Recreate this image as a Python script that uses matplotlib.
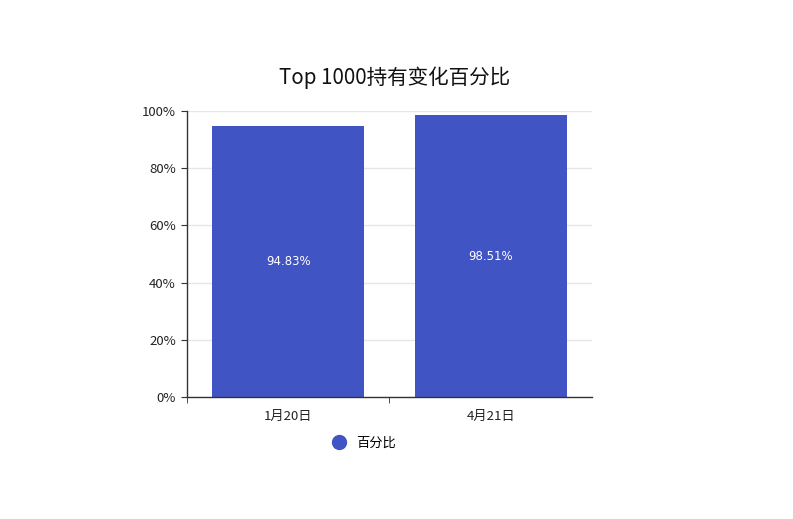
import matplotlib

matplotlib.use("Agg")
import matplotlib.pyplot as plt
from matplotlib.lines import Line2D
from matplotlib.ticker import FuncFormatter, MultipleLocator

plt.rcParams["font.family"] = ["Noto Sans CJK SC", "DejaVu Sans"]

categories = ["1月20日", "4月21日"]
values = [94.83, 98.51]
series_name = "百分比"
title = "Top 1000持有变化百分比"

BAR_COLOR = "#4154c4"
AXIS_COLOR = "#333333"
GRID_COLOR = "#e6e6e6"

fig = plt.figure(figsize=(7.93, 5.19), dpi=100)
ax = fig.add_axes([0.2358, 0.2351, 0.5107, 0.551])

x = list(range(len(categories)))
bars = ax.bar(x, values, width=0.75, color=BAR_COLOR, zorder=2)
for b, v in zip(bars, values):
    ax.text(b.get_x() + b.get_width() / 2, v / 2, f"{v:.2f}%",
            ha="center", va="center", color="white", fontsize=8.5,
            family=["DejaVu Sans"], zorder=4)

ax.set_xlim(-0.5, len(categories) - 0.5)
ax.set_ylim(0, 100)
ax.yaxis.set_major_locator(MultipleLocator(20))
ax.yaxis.set_major_formatter(FuncFormatter(lambda v, _: f"{v:.0f}%"))
ax.set_xticks(x)
ax.set_xticklabels(categories)
ax.tick_params(axis="x", length=0, pad=9, labelsize=9.5, colors="#222222")
# category boundary ticks (none at the far right end)
ax.set_xticks([-0.5, 0.5], minor=True)
ax.tick_params(axis="x", which="minor", length=4, color=AXIS_COLOR)
ax.tick_params(axis="y", length=4, color=AXIS_COLOR, labelsize=9.5,
               labelcolor="#222222", pad=4)

ax.grid(axis="y", color=GRID_COLOR, linewidth=1, zorder=0)
ax.set_axisbelow(True)
for side in ("top", "right"):
    ax.spines[side].set_visible(False)
for side in ("left", "bottom"):
    ax.spines[side].set_color(AXIS_COLOR)
    ax.spines[side].set_linewidth(1)

fig.text(0.4975, 0.851, title, ha="center", va="center", fontsize=14.8,
         color="#111111")

handle = Line2D([], [], marker="o", linestyle="none", markersize=10,
                markerfacecolor=BAR_COLOR, markeredgecolor=BAR_COLOR)
fig.legend([handle], [series_name], loc="center", bbox_to_anchor=(0.455, 0.146),
           frameon=False, fontsize=9.5, handletextpad=0.3)

fig.savefig("out.png", dpi=100)
